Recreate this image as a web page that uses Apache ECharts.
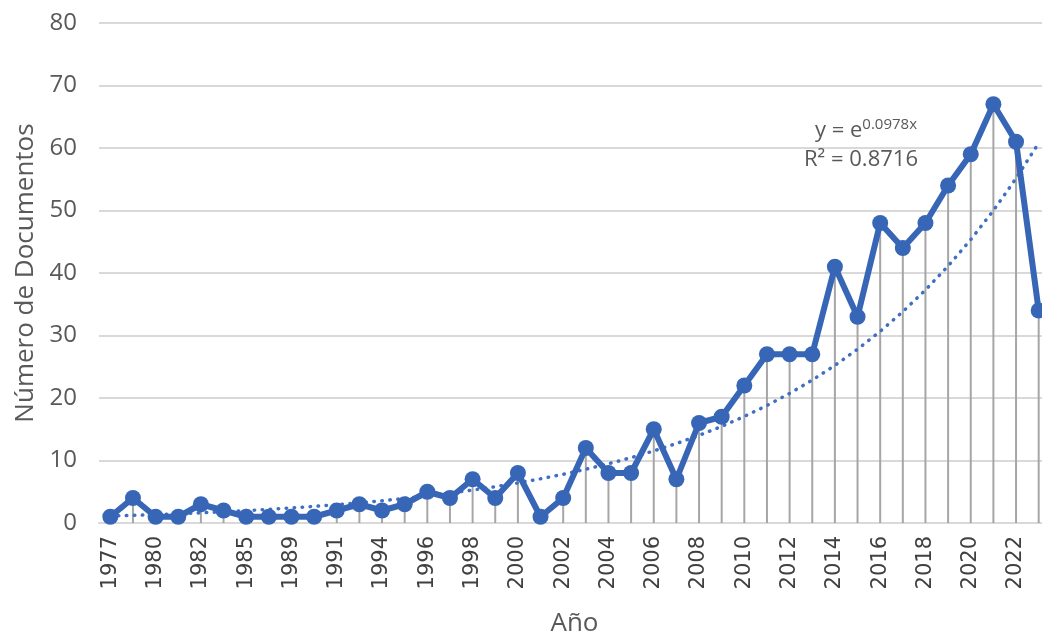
<!DOCTYPE html>
<html>
<head>
<meta charset="utf-8">
<script src="https://cdn.jsdelivr.net/npm/echarts@6/dist/echarts.min.js"></script>
<style>html,body{margin:0;padding:0;background:#fff}#c{width:1042px;height:631px}</style>
</head>
<body>
<div id="c"></div>
<script>
const years = ['1977','1978','1980','1981','1982','1983','1985','1987','1989','1990','1991','1992','1994','1995','1996','1997','1998','1999','2000','2001','2002','2003','2004','2005','2006','2007','2008','2009','2010','2011','2012','2013','2014','2015','2016','2017','2018','2019','2020','2021','2022','2023'];
const documents = [1,4,1,1,3,2,1,1,1,1,2,3,2,3,5,4,7,4,8,1,4,12,8,8,15,7,16,17,22,27,27,27,41,33,48,44,48,54,59,67,61,34];
const yTicks = [0,10,20,30,40,50,60,70,80];
const trendCoef = 0.0978;
const trendR2 = '0.8716';
const trend = years.map((_, i) => Math.exp(trendCoef * (i + 1)));

const chart = echarts.init(document.getElementById('c'));
chart.setOption({
  animation: false,
  grid: { left: 99, top: 23, width: 951, height: 500, containLabel: false, outerBoundsMode: 'none' },
  xAxis: {
    type: 'category', data: years, boundaryGap: true,
    name: 'Año', nameLocation: 'middle', nameGap: 88,
    nameTextStyle: { fontFamily: 'Open Sans', fontSize: 26, color: '#595959' },
    axisLine: { show: true, lineStyle: { color: '#d9d9d9', width: 2 } },
    axisTick: { show: false },
    axisLabel: { interval: 1, rotate: 90, margin: 13, fontFamily: 'DejaVu Sans', fontSize: 21, color: '#404040', hideOverlap: false }
  },
  yAxis: {
    type: 'value', min: yTicks[0], max: yTicks[yTicks.length - 1], interval: 10,
    name: 'Número de Documentos', nameLocation: 'middle', nameGap: 60, nameRotate: 90,
    nameTextStyle: { fontFamily: 'Open Sans', fontSize: 26, color: '#595959' },
    axisLine: { show: false }, axisTick: { show: false },
    axisLabel: { margin: 22, fontFamily: 'Open Sans', fontSize: 24, color: '#595959' },
    splitLine: { lineStyle: { color: '#d9d9d9', width: 2 } }
  },
  graphic: [
    { type: 'text', x: 866, y: 117, z: 10,
      style: {
        text: '{a|y = e}{s|0.0978x}', align: 'center', fill: '#595959',
        rich: {
          a: { fontFamily: 'Open Sans', fontSize: 22, color: '#595959', lineHeight: 28 },
          s: { fontFamily: 'Open Sans', fontSize: 15, color: '#595959', verticalAlign: 'top', lineHeight: 28, padding: [0,0,10,0] }
        }
      }
    },
    { type: 'text', x: 861, y: 149, z: 10,
      style: {
        text: 'R² = ' + trendR2, align: 'center', fill: '#595959',
        font: '22px "Open Sans"'
      }
    }
  ],
  series: [
    { type: 'bar', data: documents, barWidth: 2, itemStyle: { color: '#a6a6a6' }, z: 1, silent: true },
    { type: 'line', data: trend, showSymbol: false, smooth: false, z: 2,
      lineStyle: { color: '#3f6fc4', width: 3.5, type: [0.5, 7.5], cap: 'round' } },
    { type: 'line', data: documents, symbol: 'circle', symbolSize: 16, showAllSymbol: true, z: 3,
      lineStyle: { color: '#3866b6', width: 6 }, itemStyle: { color: '#3866b6' } }
  ]
});
</script>
</body>
</html>
